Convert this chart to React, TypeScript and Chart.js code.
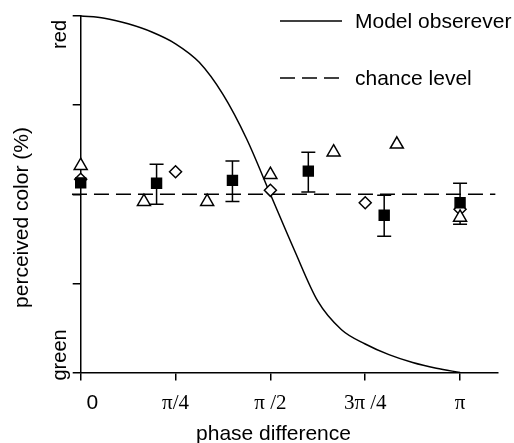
import React, { useEffect, useRef } from 'react';
import { Chart, registerables } from 'chart.js';

Chart.register(...registerables);

// x positions are in units of π (phase difference / π)
const X_TICKS = [0, 0.25, 0.5, 0.75, 1];
const X_TICK_LABELS = ['    0', 'π/4', 'π /2', '3π /4', 'π'];
const Y_TICKS = [0, 25, 50, 75, 100];
const Y_TICK_LABELS = ['green', '', '', '', 'red'];

const X_TITLE = 'phase difference';
const Y_TITLE = 'perceived color (%)';
const LEGEND_LABELS = ['Model obserever', 'chance level'];

// Model observer curve
const modelX = [0, 0.0625, 0.125, 0.1875, 0.25, 0.3125, 0.375, 0.4375, 0.5, 0.5625, 0.625, 0.6875, 0.75, 0.8125, 0.875, 0.9375, 1];
const modelY = [100, 99.4, 97.8, 95.5, 92.2, 87, 78, 65.5, 50, 34.5, 20, 12, 8, 5, 2.8, 1.2, 0];

// chance level
const chanceX = [-0.023, 1.093];
const chanceY = [50, 50];

// filled squares with error bars
const sqX = [0, 0.2, 0.4, 0.6, 0.8, 1.0];
const sqY = [53.2, 53.1, 53.9, 56.5, 44.1, 47.6];
const sqLow = [null, 47.2, 48.0, 50.6, 38.2, 41.6];
const sqHigh = [null, 58.4, 59.3, 61.8, 49.7, 53.1];

// open triangles
const triX = [0, 1 / 6, 2 / 6, 3 / 6, 4 / 6, 5 / 6, 1];
const triY = [58.0, 47.9, 47.9, 55.5, 61.8, 64.0, 43.5];

// open diamonds
const diaX = [0, 0.25, 0.5, 0.75, 1];
const diaY = [54.2, 56.3, 51.1, 47.6, 45.8];

const SANS = '"Liberation Sans", Arial, sans-serif';
const SERIF = '"Liberation Serif", "Times New Roman", serif';
const DASH = [15, 7];

const zip = (xs: number[], ys: number[]) => xs.map((x, i) => ({ x, y: ys[i] }));

const overlayPlugin = {
  id: 'overlay',
  beforeDatasetsDraw(chart: any) {
    const { ctx, scales } = chart;
    const xs = scales.x;
    const ys = scales.y;
    ctx.save();
    ctx.strokeStyle = '#000';
    ctx.lineWidth = 1.5;
    sqX.forEach((xv, i) => {
      const lo = sqLow[i];
      const hi = sqHigh[i];
      if (lo == null || hi == null) return;
      const px = xs.getPixelForValue(xv);
      const pl = ys.getPixelForValue(lo);
      const ph = ys.getPixelForValue(hi);
      ctx.beginPath();
      ctx.moveTo(px, pl);
      ctx.lineTo(px, ph);
      ctx.moveTo(px - 7, pl);
      ctx.lineTo(px + 7, pl);
      ctx.moveTo(px - 7, ph);
      ctx.lineTo(px + 7, ph);
      ctx.stroke();
    });
    ctx.restore();
  },
  afterDraw(chart: any) {
    const { ctx, scales, chartArea } = chart;
    const ys = scales.y;
    ctx.save();
    ctx.fillStyle = '#000';
    ctx.strokeStyle = '#000';

    // y tick labels (rotated)
    ctx.font = `20px ${SANS}`;
    Y_TICKS.forEach((v, i) => {
      const lab = Y_TICK_LABELS[i];
      if (!lab) return;
      const py = ys.getPixelForValue(v);
      ctx.save();
      ctx.translate(66, i === 0 ? py + 8 : py + 4);
      ctx.rotate(-Math.PI / 2);
      ctx.textBaseline = 'alphabetic';
      ctx.textAlign = i === 0 ? 'left' : 'right';
      ctx.fillText(lab, 0, 0);
      ctx.restore();
    });

    // y title
    ctx.font = `21px ${SANS}`;
    ctx.save();
    ctx.translate(28, 217.5);
    ctx.rotate(-Math.PI / 2);
    ctx.textAlign = 'center';
    ctx.textBaseline = 'alphabetic';
    ctx.fillText(Y_TITLE, 0, 0);
    ctx.restore();

    // x title
    ctx.textAlign = 'center';
    ctx.textBaseline = 'alphabetic';
    ctx.fillText(X_TITLE, 273.5, 440);

    // legend
    const lx0 = 280;
    const lx1 = 342;
    const rows = [21, 78];
    ctx.lineWidth = 1.5;
    rows.forEach((ry, i) => {
      ctx.beginPath();
      ctx.setLineDash(i === 1 ? DASH : []);
      ctx.moveTo(lx0, ry);
      ctx.lineTo(lx1, ry);
      ctx.stroke();
      ctx.setLineDash([]);
      ctx.textAlign = 'left';
      ctx.textBaseline = 'middle';
      ctx.fillText(LEGEND_LABELS[i], 355, ry + 1);
    });
    ctx.restore();
  },
};

export default function App() {
  const ref = useRef<HTMLCanvasElement>(null);
  useEffect(() => {
    if (!ref.current) return;
    const markerBase = {
      type: 'scatter' as const,
      showLine: false,
      clip: false as any,
      pointBorderColor: '#000',
      pointBorderWidth: 1.5,
      pointHoverRadius: 0,
    };
    const chart = new Chart(ref.current, {
      type: 'scatter',
      data: {
        datasets: [
          {
            ...markerBase,
            label: 'squares',
            data: zip(sqX, sqY),
            pointStyle: 'rect',
            pointRadius: 7,
            pointBackgroundColor: '#000',
          },
          {
            ...markerBase,
            label: 'triangles',
            data: zip(triX, triY),
            pointStyle: 'triangle',
            pointRadius: 7.5,
            pointBackgroundColor: '#fff',
          },
          {
            ...markerBase,
            label: 'diamonds',
            data: zip(diaX, diaY),
            pointStyle: 'rectRot',
            pointRadius: 6,
            pointBackgroundColor: '#fff',
          },
          {
            type: 'line',
            label: LEGEND_LABELS[0],
            data: zip(modelX, modelY),
            borderColor: '#000',
            borderWidth: 1.5,
            pointRadius: 0,
            cubicInterpolationMode: 'monotone',
            fill: false,
            clip: false as any,
          },
          {
            type: 'line',
            label: LEGEND_LABELS[1],
            data: zip(chanceX, chanceY),
            borderColor: '#000',
            borderWidth: 1.5,
            borderDash: DASH,
            pointRadius: 0,
            fill: false,
            clip: false as any,
          },
        ],
      },
      options: {
        animation: false,
        responsive: false,
        events: [],
        layout: { padding: { left: 0, top: 16, right: 16, bottom: 0 } },
        plugins: {
          legend: { display: false },
          tooltip: { enabled: false },
          title: { display: false },
        },
        scales: {
          x: {
            type: 'linear',
            min: 0,
            max: 1.1,
            afterBuildTicks: (s: any) => {
              s.ticks = X_TICKS.map((v) => ({ value: v }));
            },
            afterFit: (s: any) => {
              s.height = 70.5;
            },
            border: { display: true, color: '#000', width: 1.5 },
            grid: {
              display: true,
              drawOnChartArea: false,
              drawTicks: true,
              tickLength: 8,
              color: '#000',
              lineWidth: 1.5,
            },
            ticks: {
              autoSkip: false,
              maxRotation: 0,
              minRotation: 0,
              padding: 10,
              color: '#000',
              font: (c: any) =>
                c.index === 0 ? { family: SANS, size: 21 } : { family: SERIF, size: 21 },
              callback: (v: any) => {
                const i = X_TICKS.indexOf(Number(v));
                return i >= 0 ? X_TICK_LABELS[i] : '';
              },
            },
          },
          y: {
            type: 'linear',
            min: 0,
            max: 100,
            afterBuildTicks: (s: any) => {
              s.ticks = Y_TICKS.map((v) => ({ value: v }));
            },
            afterFit: (s: any) => {
              s.width = 80.7;
            },
            border: { display: true, color: '#000', width: 1.5 },
            grid: {
              display: true,
              drawOnChartArea: false,
              drawTicks: true,
              tickLength: 8,
              color: '#000',
              lineWidth: 1.5,
            },
            ticks: {
              display: true,
              color: '#000',
              font: { family: SANS, size: 20 },
              callback: () => '',
            },
          },
        },
      },
      plugins: [overlayPlugin],
    } as any);
    return () => chart.destroy();
  }, []);
  return (
    <div style={{ position: 'absolute', left: 0, top: 0, width: 514, height: 443, background: '#fff' }}>
      <canvas ref={ref} width={514} height={443} style={{ display: 'block', width: 514, height: 443 }} />
    </div>
  );
}
